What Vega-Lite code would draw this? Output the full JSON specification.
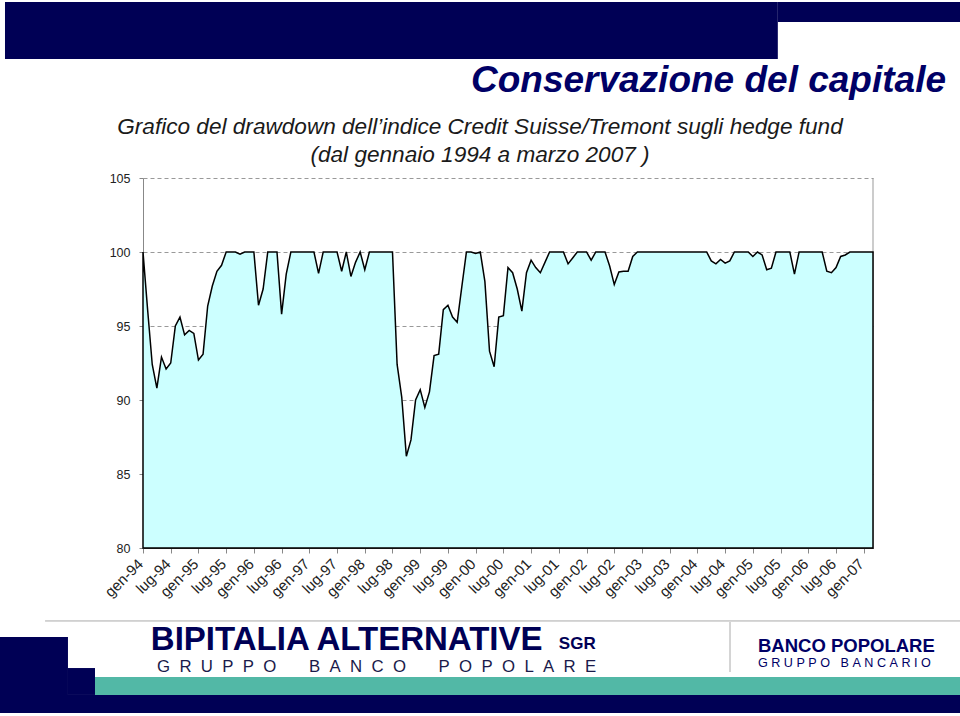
{
  "$schema": "https://vega.github.io/schema/vega-lite/v6.json",
  "width": 730,
  "height": 370,
  "autosize": {"type": "none"},
  "padding": {"left": 143, "top": 178, "right": 87, "bottom": 168},
  "background": "white",
  "config": {"view": {"stroke": null}},
  "resolve": {"axis": {"x": "independent", "y": "independent"}},
  "data": {"values": [
    {"mese":0,"valore":100},{"mese":1,"valore":96.1},{"mese":2,"valore":92.4},{"mese":3,"valore":90.8},{"mese":4,"valore":92.9},{"mese":5,"valore":92.1},{"mese":6,"valore":92.5},{"mese":7,"valore":95.0},{"mese":8,"valore":95.6},{"mese":9,"valore":94.4},
    {"mese":10,"valore":94.7},{"mese":11,"valore":94.5},{"mese":12,"valore":92.7},{"mese":13,"valore":93.1},{"mese":14,"valore":96.35},{"mese":15,"valore":97.7},{"mese":16,"valore":98.7},{"mese":17,"valore":99.1},{"mese":18,"valore":100},{"mese":19,"valore":100},
    {"mese":20,"valore":100},{"mese":21,"valore":99.85},{"mese":22,"valore":100},{"mese":23,"valore":100},{"mese":24,"valore":100},{"mese":25,"valore":96.4},{"mese":26,"valore":97.5},{"mese":27,"valore":100},{"mese":28,"valore":100},{"mese":29,"valore":100},
    {"mese":30,"valore":95.8},{"mese":31,"valore":98.5},{"mese":32,"valore":100},{"mese":33,"valore":100},{"mese":34,"valore":100},{"mese":35,"valore":100},{"mese":36,"valore":100},{"mese":37,"valore":100},{"mese":38,"valore":98.55},{"mese":39,"valore":100},
    {"mese":40,"valore":100},{"mese":41,"valore":100},{"mese":42,"valore":100},{"mese":43,"valore":98.7},{"mese":44,"valore":100},{"mese":45,"valore":98.35},{"mese":46,"valore":99.3},{"mese":47,"valore":100},{"mese":48,"valore":98.8},{"mese":49,"valore":100},
    {"mese":50,"valore":100},{"mese":51,"valore":100},{"mese":52,"valore":100},{"mese":53,"valore":100},{"mese":54,"valore":100},{"mese":55,"valore":92.4},{"mese":56,"valore":90.2},{"mese":57,"valore":86.2},{"mese":58,"valore":87.3},{"mese":59,"valore":90.0},
    {"mese":60,"valore":90.7},{"mese":61,"valore":89.5},{"mese":62,"valore":90.55},{"mese":63,"valore":93.0},{"mese":64,"valore":93.1},{"mese":65,"valore":96.1},{"mese":66,"valore":96.4},{"mese":67,"valore":95.6},{"mese":68,"valore":95.25},{"mese":69,"valore":97.65},
    {"mese":70,"valore":100},{"mese":71,"valore":100},{"mese":72,"valore":99.9},{"mese":73,"valore":100},{"mese":74,"valore":98.0},{"mese":75,"valore":93.3},{"mese":76,"valore":92.25},{"mese":77,"valore":95.6},{"mese":78,"valore":95.7},{"mese":79,"valore":98.95},
    {"mese":80,"valore":98.6},{"mese":81,"valore":97.5},{"mese":82,"valore":96.0},{"mese":83,"valore":98.6},{"mese":84,"valore":99.45},{"mese":85,"valore":98.95},{"mese":86,"valore":98.6},{"mese":87,"valore":99.3},{"mese":88,"valore":100},{"mese":89,"valore":100},
    {"mese":90,"valore":100},{"mese":91,"valore":100},{"mese":92,"valore":99.2},{"mese":93,"valore":99.6},{"mese":94,"valore":100},{"mese":95,"valore":100},{"mese":96,"valore":100},{"mese":97,"valore":99.45},{"mese":98,"valore":100},{"mese":99,"valore":100},
    {"mese":100,"valore":100},{"mese":101,"valore":99.05},{"mese":102,"valore":97.8},{"mese":103,"valore":98.65},{"mese":104,"valore":98.7},{"mese":105,"valore":98.7},{"mese":106,"valore":99.7},{"mese":107,"valore":100},{"mese":108,"valore":100},{"mese":109,"valore":100},
    {"mese":110,"valore":100},{"mese":111,"valore":100},{"mese":112,"valore":100},{"mese":113,"valore":100},{"mese":114,"valore":100},{"mese":115,"valore":100},{"mese":116,"valore":100},{"mese":117,"valore":100},{"mese":118,"valore":100},{"mese":119,"valore":100},
    {"mese":120,"valore":100},{"mese":121,"valore":100},{"mese":122,"valore":100},{"mese":123,"valore":99.4},{"mese":124,"valore":99.2},{"mese":125,"valore":99.5},{"mese":126,"valore":99.25},{"mese":127,"valore":99.4},{"mese":128,"valore":100},{"mese":129,"valore":100},
    {"mese":130,"valore":100},{"mese":131,"valore":100},{"mese":132,"valore":99.7},{"mese":133,"valore":100},{"mese":134,"valore":99.8},{"mese":135,"valore":98.8},{"mese":136,"valore":98.9},{"mese":137,"valore":100},{"mese":138,"valore":100},{"mese":139,"valore":100},
    {"mese":140,"valore":100},{"mese":141,"valore":98.5},{"mese":142,"valore":100},{"mese":143,"valore":100},{"mese":144,"valore":100},{"mese":145,"valore":100},{"mese":146,"valore":100},{"mese":147,"valore":100},{"mese":148,"valore":98.7},{"mese":149,"valore":98.6},
    {"mese":150,"valore":98.95},{"mese":151,"valore":99.7},{"mese":152,"valore":99.8},{"mese":153,"valore":100},{"mese":154,"valore":100},{"mese":155,"valore":100},{"mese":156,"valore":100},{"mese":157,"valore":100},{"mese":158,"valore":100}
  ]},
  "layer": [
    {
      "data": {"values": [{}]},
      "mark": {"type": "rect", "fill": "#000055"},
      "encoding": {
        "x": {"datum": -29.87, "type": "quantitative", "axis": null},
        "x2": {"datum": 137.4},
        "y": {"datum": 116.89, "type": "quantitative", "axis": null},
        "y2": {"datum": 113.04}
      }
    },
    {
      "data": {"values": [{}]},
      "mark": {"type": "rect", "fill": "#000055"},
      "encoding": {
        "x": {"datum": 137.4, "type": "quantitative", "axis": null},
        "x2": {"datum": 177},
        "y": {"datum": 116.89, "type": "quantitative", "axis": null},
        "y2": {"datum": 115.54}
      }
    },
    {
      "data": {"values": [{}]},
      "mark": {"type": "text", "align": "right", "baseline": "alphabetic", "font": "Liberation Sans", "fontSize": 37, "fontWeight": "bold", "fontStyle": "italic", "fill": "#000066"},
      "encoding": {
        "x": {"datum": 173.8, "type": "quantitative", "axis": null},
        "y": {"datum": 110.81, "type": "quantitative", "axis": null},
        "text": {"value": "Conservazione del capitale"}
      }
    },
    {
      "data": {"values": [{}]},
      "mark": {"type": "text", "align": "center", "baseline": "alphabetic", "font": "Liberation Sans", "fontSize": 22.6, "fontStyle": "italic", "fill": "#1a1a1a", "lineHeight": 28},
      "encoding": {
        "x": {"datum": 72.94, "type": "quantitative", "axis": null},
        "y": {"datum": 107.97, "type": "quantitative", "axis": null},
        "text": {"value": ["Grafico del drawdown dell\u2019indice Credit Suisse/Tremont sugli hedge fund", "(dal gennaio 1994 a marzo 2007 )"]}
      }
    },
    {
      "data": {"values": [{}]},
      "mark": {"type": "rule", "stroke": "#aaaaaa", "strokeWidth": 1},
      "encoding": {
        "x": {"datum": -21.2, "type": "quantitative", "axis": null},
        "x2": {"datum": 177},
        "y": {"datum": 75.07, "type": "quantitative", "axis": null}
      }
    },
    {
      "data": {"values": [{}]},
      "mark": {"type": "rule", "stroke": "#aaaaaa", "strokeWidth": 1},
      "encoding": {
        "x": {"datum": 127.05, "type": "quantitative", "axis": null},
        "y": {"datum": 75.0, "type": "quantitative", "axis": null},
        "y2": {"datum": 71.62}
      }
    },
    {
      "data": {"values": [{}]},
      "mark": {"type": "rect", "fill": "#000055"},
      "encoding": {
        "x": {"datum": -30.95, "type": "quantitative", "axis": null},
        "x2": {"datum": -16.24},
        "y": {"datum": 73.99, "type": "quantitative", "axis": null},
        "y2": {"datum": 70.07}
      }
    },
    {
      "data": {"values": [{}]},
      "mark": {"type": "rect", "fill": "#000055"},
      "encoding": {
        "x": {"datum": -16.3, "type": "quantitative", "axis": null},
        "x2": {"datum": -10.39},
        "y": {"datum": 71.89, "type": "quantitative", "axis": null},
        "y2": {"datum": 70.07}
      }
    },
    {
      "data": {"values": [{}]},
      "mark": {"type": "rect", "fill": "#52b8a6"},
      "encoding": {
        "x": {"datum": -10.39, "type": "quantitative", "axis": null},
        "x2": {"datum": 177},
        "y": {"datum": 71.28, "type": "quantitative", "axis": null},
        "y2": {"datum": 70.07}
      }
    },
    {
      "data": {"values": [{}]},
      "mark": {"type": "rect", "fill": "#000055"},
      "encoding": {
        "x": {"datum": -30.95, "type": "quantitative", "axis": null},
        "x2": {"datum": 177},
        "y": {"datum": 70.07, "type": "quantitative", "axis": null},
        "y2": {"datum": 68.85}
      }
    },
    {
      "data": {"values": [{}]},
      "mark": {"type": "text", "align": "left", "baseline": "alphabetic", "font": "Liberation Sans", "fontSize": 33, "fontWeight": "bold", "fill": "#000055"},
      "encoding": {
        "x": {"datum": 1.7, "type": "quantitative", "axis": null},
        "y": {"datum": 73.11, "type": "quantitative", "axis": null},
        "text": {"value": "BIPITALIA ALTERNATIVE"}
      }
    },
    {
      "data": {"values": [{}]},
      "mark": {"type": "text", "align": "left", "baseline": "alphabetic", "font": "Liberation Sans", "fontSize": 17, "fontWeight": "bold", "fill": "#000055"},
      "encoding": {
        "x": {"datum": 90.0, "type": "quantitative", "axis": null},
        "y": {"datum": 73.18, "type": "quantitative", "axis": null},
        "text": {"value": "SGR"}
      }
    },
    {
      "data": {"values": [{}]},
      "mark": {"type": "text", "align": "left", "baseline": "alphabetic", "font": "Liberation Sans", "fontSize": 16.8, "fill": "#1a1a4a"},
      "encoding": {
        "x": {"datum": 3.03, "type": "quantitative", "axis": null},
        "y": {"datum": 71.62, "type": "quantitative", "axis": null},
        "text": {"value": "G\u00a0\u00a0R\u00a0\u00a0U\u00a0\u00a0P\u00a0\u00a0P\u00a0\u00a0O\u00a0\u00a0\u00a0\u00a0\u00a0\u00a0\u00a0B\u00a0\u00a0A\u00a0\u00a0N\u00a0\u00a0C\u00a0\u00a0O\u00a0\u00a0\u00a0\u00a0\u00a0\u00a0\u00a0P\u00a0\u00a0O\u00a0\u00a0P\u00a0\u00a0O\u00a0\u00a0L\u00a0\u00a0A\u00a0\u00a0R\u00a0\u00a0E"}
      }
    },
    {
      "data": {"values": [{}]},
      "mark": {"type": "text", "align": "left", "baseline": "alphabetic", "font": "Liberation Sans", "fontSize": 18.5, "fontWeight": "bold", "fill": "#000066"},
      "encoding": {
        "x": {"datum": 133.1, "type": "quantitative", "axis": null},
        "y": {"datum": 72.97, "type": "quantitative", "axis": null},
        "text": {"value": "BANCO POPOLARE"}
      }
    },
    {
      "data": {"values": [{}]},
      "mark": {"type": "text", "align": "left", "baseline": "alphabetic", "font": "Liberation Sans", "fontSize": 12.6, "fill": "#000066"},
      "encoding": {
        "x": {"datum": 133.1, "type": "quantitative", "axis": null},
        "y": {"datum": 71.95, "type": "quantitative", "axis": null},
        "text": {"value": "G\u00a0R\u00a0U\u00a0P\u00a0P\u00a0O\u00a0\u00a0\u00a0B\u00a0A\u00a0N\u00a0C\u00a0A\u00a0R\u00a0I\u00a0O"}
      }
    },
    {
      "data": {"values": [{}]},
      "mark": {"type": "rule", "stroke": "#999999", "strokeWidth": 1},
      "encoding": {
        "x": {"datum": 158, "type": "quantitative", "axis": null},
        "y": {"datum": 80, "type": "quantitative", "axis": null},
        "y2": {"datum": 105}
      }
    },
    {
      "mark": {"type": "area", "fill": "#CCFFFF", "stroke": "#000000", "strokeWidth": 1.5, "line": false},
      "encoding": {
        "x": {
          "field": "mese", "type": "quantitative",
          "scale": {"domain": [0, 158], "nice": false, "zero": false},
          "axis": {
            "title": null, "grid": false,
            "values": [0,6,12,18,24,30,36,42,48,54,60,66,72,78,84,90,96,102,108,114,120,126,132,138,144,150,156],
            "labelExpr": "(datum.value % 12 == 0 ? 'gen-' : 'lug-') + pad('' + ((94 + floor(datum.value / 12)) % 100), 2, '0', 'left')",
            "labelAngle": -45, "labelAlign": "right", "labelBaseline": "middle",
            "labelFont": "Liberation Sans", "labelFontSize": 15, "labelColor": "#222222",
            "labelPadding": 8, "labelOffset": -3, "labelOverlap": false, "labelFlush": false,
            "tickColor": "#888888", "tickSize": 5, "domainColor": "#444444"
          }
        },
        "y": {
          "field": "valore", "type": "quantitative",
          "scale": {"domain": [80, 105], "nice": false, "zero": false},
          "axis": {
            "title": null, "values": [80, 85, 90, 95, 100, 105],
            "grid": true, "gridDash": [4, 3], "gridColor": "#999999", "gridWidth": 1,
            "labelFont": "Liberation Sans", "labelFontSize": 12.5, "labelColor": "#222222",
            "labelPadding": 9, "tickColor": "#888888", "tickSize": 4, "domainColor": "#888888"
          }
        },
        "y2": {"datum": 80}
      }
    }
  ]
}
